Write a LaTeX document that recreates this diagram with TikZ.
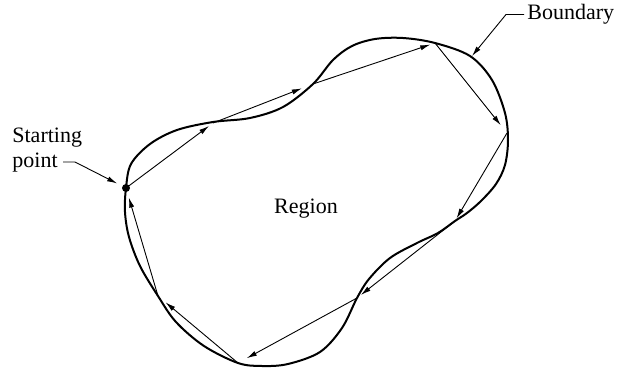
\documentclass[tikz,border=0pt]{standalone}
\usepackage{fontspec}
\setmainfont{Liberation Serif}
\usetikzlibrary{arrows.meta, positioning}

\begin{document}
\begin{tikzpicture}[x=0.5pt, y=-0.5pt,
    boundary/.style={line width=1pt},
    link/.style={-{Latex[length=5pt, width=2.6pt]}, line width=0.45pt, shorten >=2.5pt},
    leader/.style={-{Latex[length=5pt, width=2.6pt]}, line width=0.45pt},
    lbl/.style={font=\fontsize{11}{12.5}\selectfont, inner sep=0pt}
]
    \useasboundingbox (0,0) rectangle (623,370);

    % vertices on the boundary
    \coordinate (p0) at (126,188);
    \coordinate (p1) at (213,123);
    \coordinate (p2) at (313,84);
    \coordinate (p3) at (435,43);
    \coordinate (p4) at (507,133);
    \coordinate (p5) at (455,221);
    \coordinate (p6) at (357,298);
    \coordinate (p7) at (238,363);
    \coordinate (p8) at (158,296);

    % the boundary
    \draw[boundary] plot[smooth cycle, tension=0.55] coordinates {
        (126,188) (131,164) (150,144) (177,130) (213,122) (250,118)
        (283,107) (313,84) (333,60) (352,46) (375,39) (403,38)
        (435,43) (470,56) (492,80) (505,113) (508,140) (505,165)
        (496,184) (481,201) (467,213) (455,221) (438,233) (417,243)
        (390,258) (369,279) (357,298) (342,328) (320,352) (288,364)
        (262,366) (238,363) (204,346) (176,322) (158,296) (140,266)
        (129,237) (125,212)};

    \fill (p0) circle (2pt);

    \draw[link] (p0) -- (p1);
    \draw[link, shorten >=6pt] (p1) -- (p2);
    \draw[link] (p2) -- (p3);
    \draw[link, shorten >=5pt] (p3) -- (p4);
    \draw[link, shorten >=1.5pt] (p4) -- (p5);
    \draw[link] (p5) -- (p6);
    \draw[link, shorten >=5pt] (p6) -- (p7);
    \draw[link, shorten >=5pt] (p7) -- (p8);
    \draw[link, shorten >=5pt] (p8) -- (p0);

    \node[lbl] (region) at (306,209) {Region};

    \node[lbl, anchor=west, align=left] (start) at (12,150) {Starting\\point};
    \coordinate (startend) at (63,162);
    \draw[leader, shorten >=5pt] (startend) -- ++(12,0) -- (p0);

    \node[lbl, anchor=west] (bdry) at (527,14.5) {Boundary};
    \coordinate (bdryend) at (472,56);
    \draw[leader] ([xshift=-1.5pt]bdry.west) -- ++(-18,0) -- (bdryend);
\end{tikzpicture}
\end{document}
